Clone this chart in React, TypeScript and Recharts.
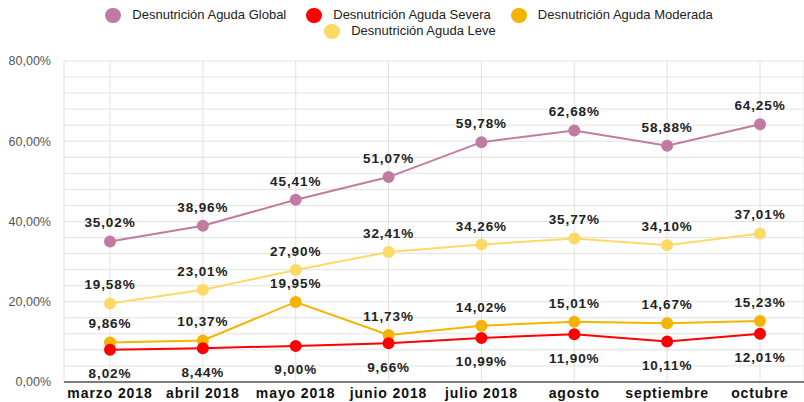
import React from 'react'
import {
  LineChart,
  Line,
  XAxis,
  YAxis,
  CartesianGrid,
  LabelList
} from 'recharts'

const months = ['marzo 2018', 'abril 2018', 'mayo 2018', 'junio 2018', 'julio 2018', 'agosto', 'septiembre', 'octubre']
const globalValues = [35.02, 38.96, 45.41, 51.07, 59.78, 62.68, 58.88, 64.25]
const severaValues = [8.02, 8.44, 9.0, 9.66, 10.99, 11.9, 10.11, 12.01]
const moderadaValues = [9.86, 10.37, 19.95, 11.73, 14.02, 15.01, 14.67, 15.23]
const leveValues = [19.58, 23.01, 27.9, 32.41, 34.26, 35.77, 34.1, 37.01]
const yTicks = [0, 4, 8, 12, 16, 20, 24, 28, 32, 36, 40, 44, 48, 52, 56, 60, 64, 68, 72, 76, 80]

const data = months.map((name, i) => ({
  name,
  global: globalValues[i],
  severa: severaValues[i],
  moderada: moderadaValues[i],
  leve: leveValues[i]
}))

const colors = {
  global: '#c27ba0',
  severa: '#ff0000',
  moderada: '#f4b400',
  leve: '#ffd966'
}

const fmt = (v: number) => v.toFixed(2).replace('.', ',') + '%'

const labelStyle = { fontSize: 13.5, fontWeight: 700, fill: '#222', letterSpacing: 0.9 }

function LegendItem({ color, label }: { color: string; label: string }) {
  return (
    <div style={{ display: 'flex', alignItems: 'center', gap: 11 }}>
      <div style={{ width: 16, height: 15, borderRadius: 8, background: color }} />
      <span>{label}</span>
    </div>
  )
}

export default function App() {
  return (
    <div
      style={{
        position: 'absolute',
        left: 0,
        top: 0,
        width: 804,
        height: 402,
        background: '#fff',
        fontFamily: '"Liberation Sans", Arial, sans-serif',
        overflow: 'hidden'
      }}
    >
      <div
        style={{
          position: 'absolute',
          top: 7,
          left: 0,
          width: 804,
          fontSize: 13,
          color: '#222',
          lineHeight: '16px'
        }}
      >
        <div style={{ display: 'flex', justifyContent: 'center', gap: 20, marginLeft: 14 }}>
          <LegendItem color={colors.global} label="Desnutrición Aguda Global" />
          <LegendItem color={colors.severa} label="Desnutrición Aguda Severa" />
          <LegendItem color={colors.moderada} label="Desnutrición Aguda Moderada" />
        </div>
        <div style={{ display: 'flex', justifyContent: 'center', marginTop: 0, marginLeft: 16 }}>
          <LegendItem color={colors.leve} label="Desnutrición Aguda Leve" />
        </div>
      </div>
      <LineChart
        width={804}
        height={402}
        data={data}
        margin={{ top: 61, right: 0, left: 0, bottom: 0 }}
      >
        <CartesianGrid stroke="#e2e2e2" vertical={true} />
        <XAxis
          dataKey="name"
          height={20}
          padding={{ left: 46, right: 44 }}
          axisLine={{ stroke: '#555', strokeWidth: 1.5 }}
          tickLine={false}
          tick={{ fontSize: 14, fontWeight: 700, fill: '#111', letterSpacing: 0.9 }}
          tickMargin={0}
          interval={0}
        />
        <YAxis
          width={64}
          domain={[0, 80]}
          ticks={yTicks}
          interval={0}
          axisLine={false}
          tickLine={false}
          tickMargin={7}
          tick={{ fontSize: 12.5, fill: '#555' }}
          tickFormatter={(v: number) => (v % 20 === 0 ? v.toFixed(2).replace('.', ',') + '%' : '')}
        />
        <Line
          dataKey="global"
          stroke={colors.global}
          strokeWidth={2}
          dot={{ r: 5, fill: colors.global, stroke: colors.global }}
          isAnimationActive={false}
        >
          <LabelList dataKey="global" position="top" offset={14} formatter={fmt} style={labelStyle} />
        </Line>
        <Line
          dataKey="leve"
          stroke={colors.leve}
          strokeWidth={2}
          dot={{ r: 5, fill: colors.leve, stroke: colors.leve }}
          isAnimationActive={false}
        >
          <LabelList dataKey="leve" position="top" offset={14} formatter={fmt} style={labelStyle} />
        </Line>
        <Line
          dataKey="moderada"
          stroke={colors.moderada}
          strokeWidth={2}
          dot={{ r: 5, fill: colors.moderada, stroke: colors.moderada }}
          isAnimationActive={false}
        >
          <LabelList dataKey="moderada" position="top" offset={14} formatter={fmt} style={labelStyle} />
        </Line>
        <Line
          dataKey="severa"
          stroke={colors.severa}
          strokeWidth={2}
          dot={{ r: 5, fill: colors.severa, stroke: colors.severa }}
          isAnimationActive={false}
        >
          <LabelList dataKey="severa" position="bottom" offset={19} formatter={fmt} style={labelStyle} />
        </Line>
      </LineChart>
    </div>
  )
}
